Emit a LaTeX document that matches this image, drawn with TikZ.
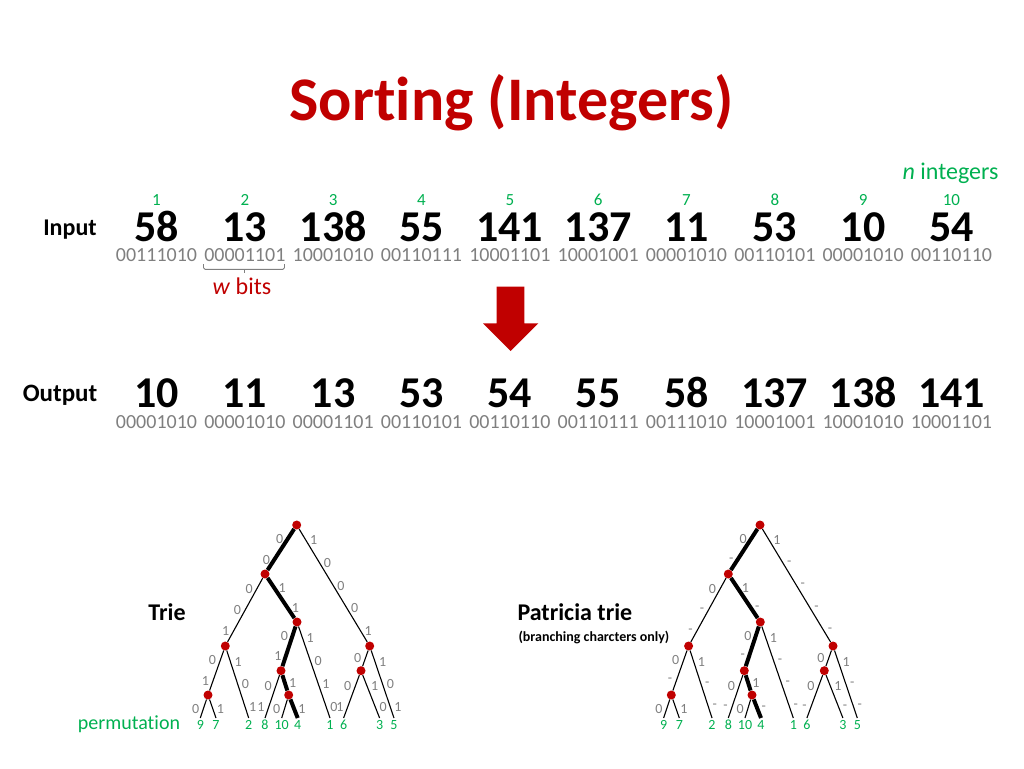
\documentclass[tikz,border=0pt]{standalone}
\usepackage{fontspec}
\setmainfont{Carlito}[Ligatures=NoCommon]
\usetikzlibrary{decorations.pathreplacing}

\definecolor{titlered}{HTML}{C00000}
\definecolor{idxgreen}{HTML}{00B050}
\definecolor{bitgray}{HTML}{7F7F7F}

\newcommand{\fsz}[1]{\fontsize{#1}{#1}\selectfont}

\tikzset{
  tnode/.style={circle, fill=titlered, inner sep=0pt, minimum size=9pt},
  bitlbl/.style={font=\fsz{14}, text=bitgray, inner sep=0pt},
  leaflbl/.style={font=\fsz{14}, text=idxgreen, anchor=base, inner sep=0pt},
  bignum/.style={font=\bfseries\fsz{44}, anchor=base, inner sep=0pt},
  binnum/.style={font=\fsz{20}, text=bitgray, anchor=base, inner sep=0pt},
  idxnum/.style={font=\fsz{17}, text=idxgreen, anchor=base, inner sep=0pt},
  sortpath/.style={line width=4pt},
}

% edge with one bit label per level
\newcommand{\bitedge}[6][]{%
  \draw[line width=1.1pt, #1] (#2) -- (#3);
  \foreach \bitv [count=\k, evaluate=\k as \p using (\k-0.5)/#5] in {#6}
    \path (#2) -- (#3) node[bitlbl, pos=\p, #4=4pt] (#2#3\k) {\bitv};
}

% nodes and leaves of the trie
\newcommand{\trienodes}{%
  \node[tnode] (R) at (296.7,525) {};
  \node[tnode] (A) at (265,574) {};
  \node[tnode] (B) at (297,622) {};
  \node[tnode] (C) at (225.3,646) {};
  \node[tnode] (D) at (369.7,646) {};
  \node[tnode] (E) at (281,670.7) {};
  \node[tnode] (F) at (361,670.7) {};
  \node[tnode] (G) at (208,695) {};
  \node[tnode] (H) at (288.7,695) {};
  \foreach \x/\v in {200.3/9, 216/7, 248.7/2, 265/8, 281.7/10, 297.7/4,
                     330/1, 343.6/6, 379.6/3, 394/5}{
    \coordinate (l\v) at (\x,718);
    \node[leaflbl] (t\v) at (\x,729.5) {\v};
  }
}

\begin{document}
\begin{tikzpicture}[x=1pt, y=-1pt]
  \useasboundingbox (0,0) rectangle (1024,768);

  % Title
  \node[font=\bfseries\fsz{62}, text=titlered, anchor=base] (title)
    at (511.5,120) {Sorting (Integers)};

  % Input
  \node[font=\fsz{24}, text=idxgreen, anchor=base] (nint) at (950.5,179)
    {\textit{n} integers};
  \node[font=\bfseries\fsz{24}, anchor=base] (inlbl) at (70,235.7) {Input};
  \foreach \v/\bits [count=\i] in {58/00111010, 13/00001101, 138/10001010,
      55/00110111, 141/10001101, 137/10001001, 11/00001010, 53/00110101,
      10/00001010, 54/00110110}{
    \node[idxnum] (idx\i) at ({156.5+88.33*(\i-1)},205) {\i};
    \node[bignum] (in\i) at ({156.5+88.33*(\i-1)},241.7) {\v};
    \node[binnum] (inbin\i) at ({156.5+88.33*(\i-1)},261.7) {\bits};
  }

  \draw[bitgray, line width=0.9pt, rounded corners=1.5pt]
    (203.5,264) -- (203.5,269.3) -- (284.5,269.3) -- (284.5,264);
  \draw[bitgray, line width=0.9pt] (244,269.3) -- (244,272.5);
  \node[font=\fsz{24}, text=titlered, anchor=base] (wbits) at (242,294)
    {\textit{w} bits};

  % Arrow
  \fill[titlered] (496.7,286.7) -- (524.3,286.7) -- (524.3,323.3)
    -- (538.3,323.3) -- (510.5,351) -- (483,323.3) -- (496.7,323.3) -- cycle;

  % Output
  \node[font=\bfseries\fsz{25}, anchor=base] (outlbl) at (60,401) {Output};
  \foreach \v/\bits [count=\i] in {10/00001010, 11/00001010, 13/00001101,
      53/00110101, 54/00110110, 55/00110111, 58/00111010, 137/10001001,
      138/10001010, 141/10001101}{
    \node[bignum] (out\i) at ({156.5+88.33*(\i-1)},407) {\v};
    \node[binnum] (outbin\i) at ({156.5+88.33*(\i-1)},428.3) {\bits};
  }

  % Trie
  \node[font=\bfseries\fsz{24}, anchor=base] (trielbl) at (167,620.5) {Trie};
  \node[font=\fsz{20}, text=idxgreen, anchor=base] (perm) at (129,729.5)
    {permutation};
  \begin{scope}[name prefix=t-]
    \trienodes
    \bitedge[sortpath]{R}{A}{left}{2}{0,0}
    \bitedge{R}{D}{right}{5}{1,0,0,0,1}
    \bitedge{A}{C}{left}{3}{0,0,1}
    \bitedge[sortpath]{A}{B}{right}{2}{1,1}
    \bitedge{C}{G}{left}{2}{0,1}
    \bitedge{C}{l2}{right}{3}{1,0,1}
    \bitedge{G}{l9}{left}{1}{0}
    \bitedge{G}{l7}{right}{1}{1}
    \bitedge[sortpath]{B}{E}{left}{2}{0,1}
    \bitedge{B}{l1}{right}{4}{1,0,1,0}
    \bitedge{E}{l8}{left}{2}{0,1}
    \bitedge[sortpath]{E}{H}{right}{1}{1}
    \bitedge{H}{l10}{left}{1}{0}
    \bitedge[sortpath]{H}{l4}{right}{1}{1}
    \bitedge{D}{F}{left}{1}{0}
    \bitedge{D}{l5}{right}{3}{1,0,1}
    \bitedge{F}{l6}{left}{2}{0,1}
    \bitedge{F}{l3}{right}{2}{1,0}
  \end{scope}

  % Patricia trie
  \node[font=\bfseries\fsz{24}, anchor=base west] (patlbl) at (514,620)
    {Patricia trie};
  \node[font=\bfseries\fsz{14}, anchor=base west] (patnote) at (515,641.5)
    {(branching charcters only)};
  \begin{scope}[xshift=463.3, name prefix=p-]
    \trienodes
    \bitedge[sortpath]{R}{A}{left}{2}{0,-}
    \bitedge{R}{D}{right}{5}{1,-,-,-,-}
    \bitedge{A}{C}{left}{3}{0,-,-}
    \bitedge[sortpath]{A}{B}{right}{2}{1,-}
    \bitedge{C}{G}{left}{2}{0,-}
    \bitedge{C}{l2}{right}{3}{1,-,-}
    \bitedge{G}{l9}{left}{1}{0}
    \bitedge{G}{l7}{right}{1}{1}
    \bitedge[sortpath]{B}{E}{left}{2}{0,-}
    \bitedge{B}{l1}{right}{4}{1,-,-,-}
    \bitedge{E}{l8}{left}{2}{0,-}
    \bitedge[sortpath]{E}{H}{right}{1}{1}
    \bitedge{H}{l10}{left}{1}{0}
    \bitedge[sortpath]{H}{l4}{right}{1}{-}
    \bitedge{D}{F}{left}{1}{0}
    \bitedge{D}{l5}{right}{3}{1,-,-}
    \bitedge{F}{l6}{left}{2}{0,-}
    \bitedge{F}{l3}{right}{2}{1,-}
  \end{scope}
\end{tikzpicture}
\end{document}
